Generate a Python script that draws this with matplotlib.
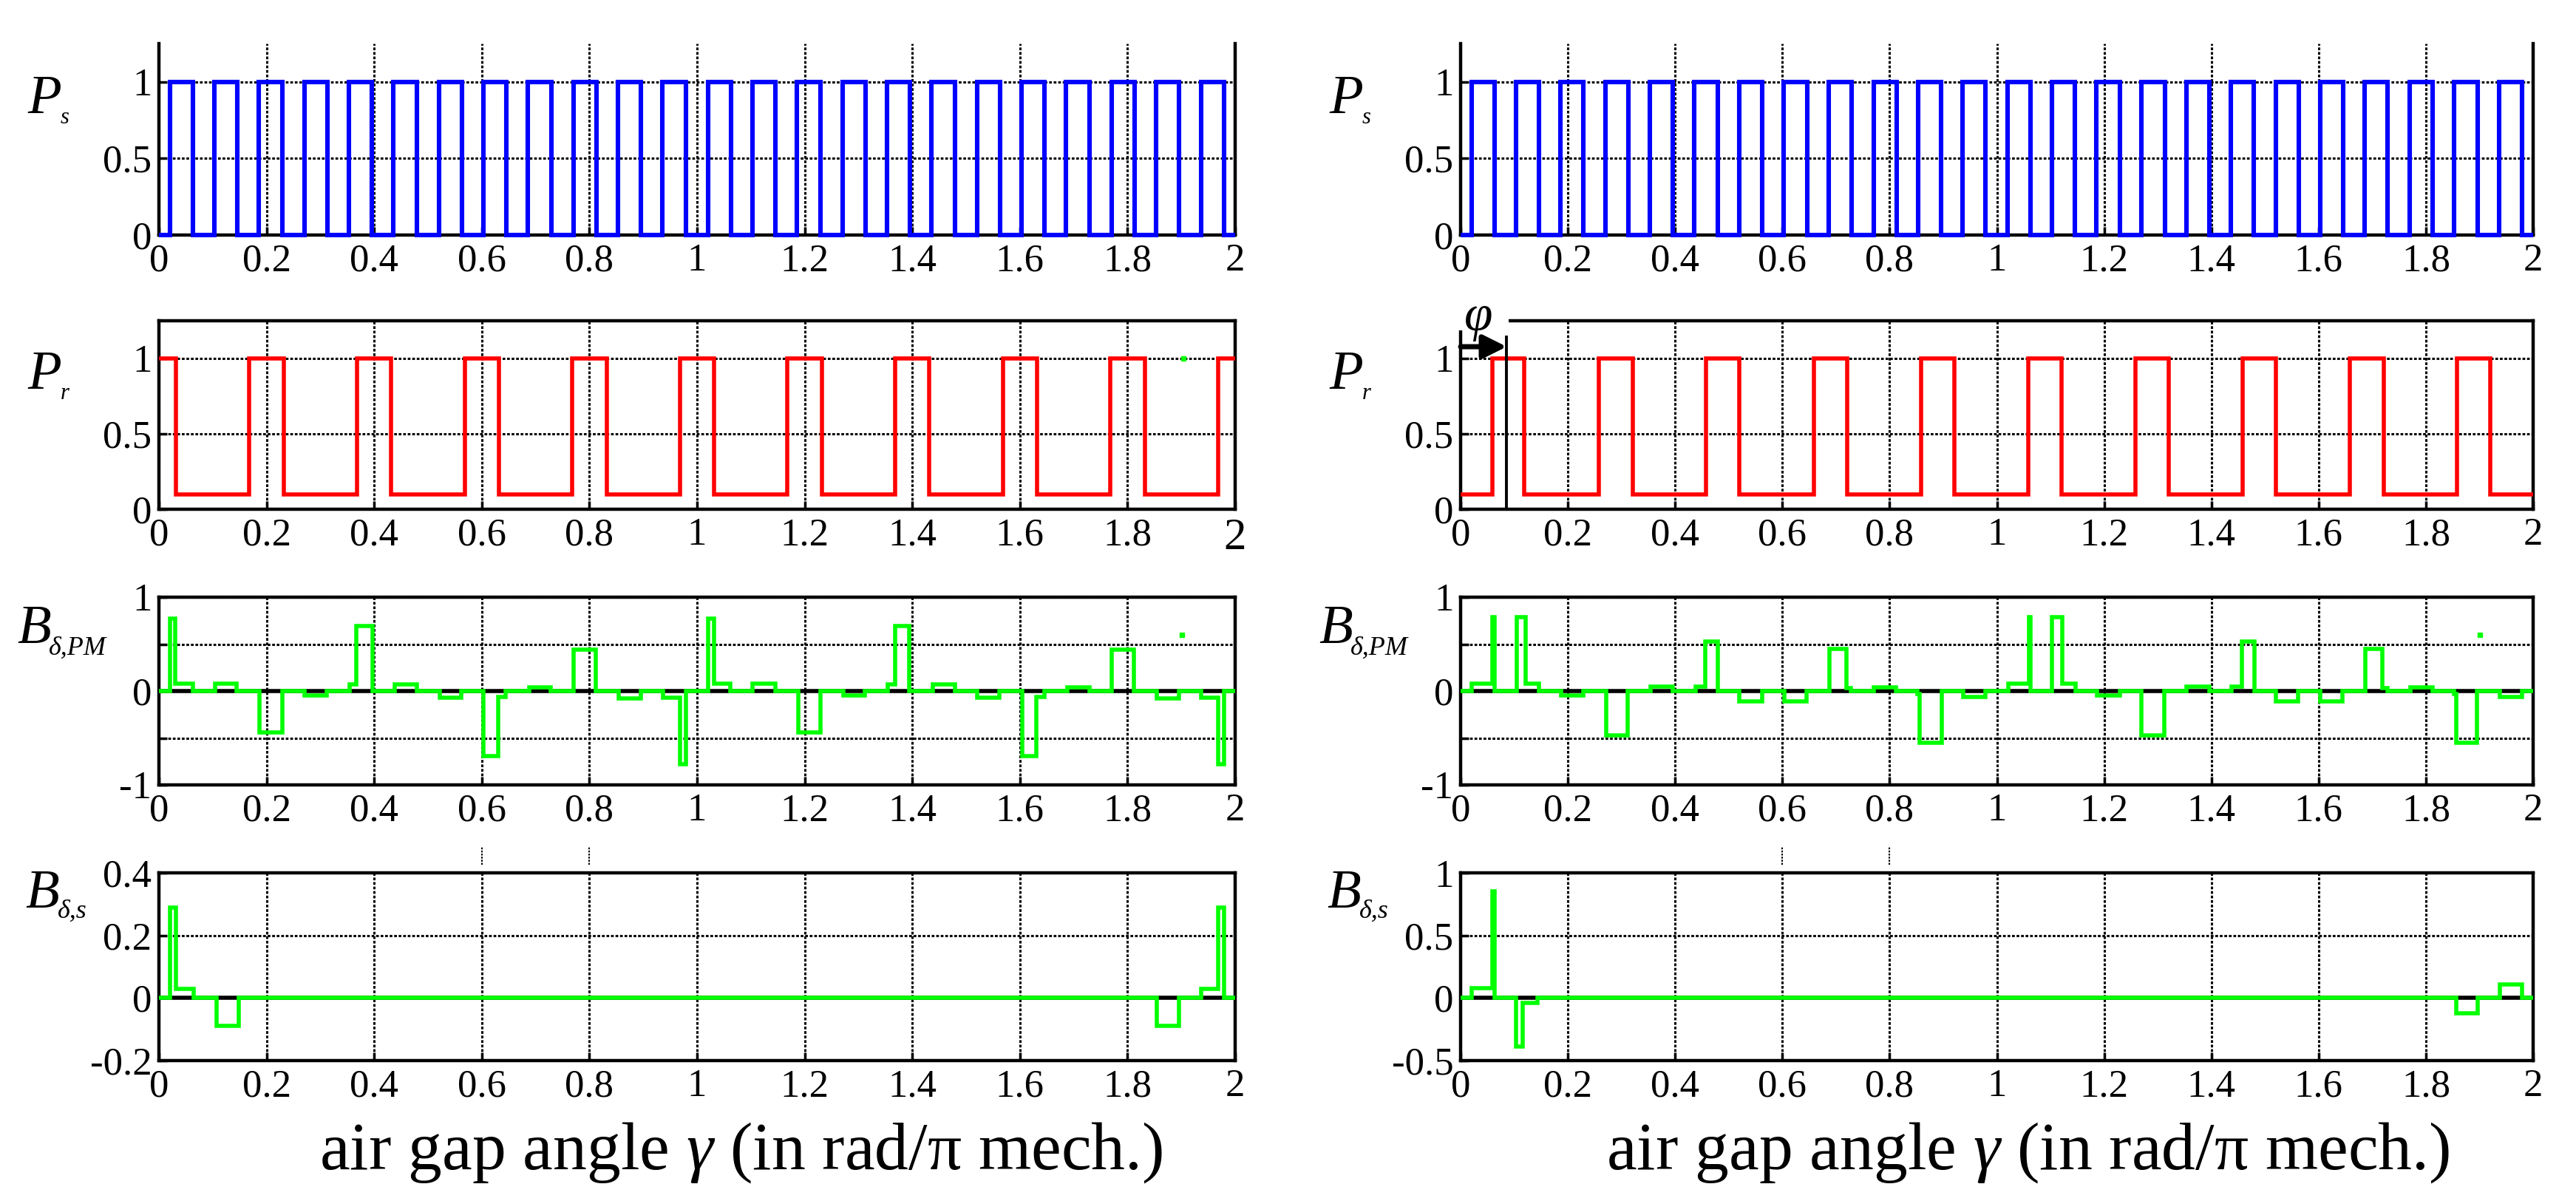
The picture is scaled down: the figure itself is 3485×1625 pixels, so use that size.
import matplotlib
matplotlib.use("Agg")
import matplotlib.pyplot as plt
from matplotlib.patches import Rectangle

plt.rcParams['font.family'] = ['Liberation Serif', 'DejaVu Serif']
plt.rcParams['mathtext.fontset'] = 'custom'
plt.rcParams['mathtext.it'] = 'Liberation Serif:italic'
plt.rcParams['mathtext.rm'] = 'Liberation Serif'

# ---------------- data ----------------
x_ticks = [0, 0.2, 0.4, 0.6, 0.8, 1.0, 1.2, 1.4, 1.6, 1.8, 2.0]
x_ticklabels = ['0', '0.2', '0.4', '0.6', '0.8', '1', '1.2', '1.4', '1.6', '1.8', '2']

# stator permeance (teeth = 1, slots = 0)
ps_rise = [0.020, 0.103, 0.186, 0.270, 0.353, 0.436, 0.520, 0.603, 0.686, 0.770, 0.853, 0.936,
           1.020, 1.103, 1.186, 1.270, 1.353, 1.436, 1.520, 1.603, 1.686, 1.770, 1.853, 1.937]
ps_fall = [0.063, 0.146, 0.229, 0.313, 0.396, 0.479, 0.563, 0.646, 0.729, 0.813, 0.896, 0.979,
           1.063, 1.146, 1.229, 1.313, 1.396, 1.479, 1.563, 1.646, 1.729, 1.813, 1.896, 1.979]
ps_low, ps_high = 0.0, 1.0

# rotor permeance, left (aligned) and right (shifted by phi)
pr_left_rise = [0.000, 0.168, 0.368, 0.568, 0.768, 0.968, 1.168, 1.368, 1.568, 1.768, 1.968]
pr_left_fall = [0.032, 0.232, 0.432, 0.632, 0.832, 1.032, 1.232, 1.432, 1.632, 1.832, 2.000]
pr_right_rise = [0.059, 0.258, 0.458, 0.659, 0.859, 1.059, 1.258, 1.458, 1.658, 1.858]
pr_right_fall = [0.119, 0.321, 0.520, 0.721, 0.921, 1.120, 1.321, 1.521, 1.722, 1.920]
pr_low, pr_high = 0.1, 1.0
phi_shift = 0.086

# PM air-gap flux density (step segments)
bpm_left_edges = [0, 0.02, 0.03, 0.063, 0.104, 0.144, 0.187, 0.229, 0.27, 0.312,
                  0.355, 0.367, 0.397, 0.438, 0.479, 0.522, 0.562, 0.603, 0.631, 0.644,
                  0.688, 0.728, 0.77, 0.812, 0.854, 0.895, 0.937, 0.968, 0.98, 1.02,
                  1.032, 1.062, 1.103, 1.146, 1.188, 1.229, 1.272, 1.312, 1.355, 1.368,
                  1.394, 1.438, 1.479, 1.521, 1.562, 1.604, 1.631, 1.645, 1.688, 1.729,
                  1.771, 1.812, 1.854, 1.896, 1.937, 1.968, 1.98, 2.0]
bpm_left_vals = [0, 0.77, 0.08, 0, 0.08, 0, -0.44, 0, -0.05, 0,
                 0.07, 0.69, 0, 0.07, 0, -0.07, 0, -0.69, -0.06, 0,
                 0.04, 0, 0.44, 0, -0.08, 0, -0.07, -0.78, 0, 0.77,
                 0.08, 0, 0.08, 0, -0.44, 0, -0.05, 0, 0.07, 0.69,
                 0, 0.07, 0, -0.07, 0, -0.69, -0.06, 0, 0.04, 0,
                 0.44, 0, -0.08, 0, -0.07, -0.78, 0]

bpm_right_edges = [0, 0.02, 0.059, 0.063, 0.105, 0.121, 0.146, 0.188, 0.229, 0.271,
                   0.312, 0.354, 0.396, 0.438, 0.456, 0.48, 0.52, 0.562, 0.604, 0.645,
                   0.688, 0.72, 0.728, 0.77, 0.812, 0.852, 0.856, 0.897, 0.937, 0.979,
                   1.021, 1.06, 1.063, 1.102, 1.122, 1.147, 1.187, 1.23, 1.27, 1.312,
                   1.353, 1.396, 1.437, 1.457, 1.48, 1.52, 1.562, 1.603, 1.644, 1.687,
                   1.719, 1.729, 1.771, 1.812, 1.853, 1.856, 1.895, 1.938, 1.98, 2.0]
bpm_right_vals = [0, 0.08, 0.79, 0, 0.79, 0.08, 0, -0.05, 0, -0.47,
                  0, 0.05, 0, 0.05, 0.53, 0, -0.11, 0, -0.11, 0,
                  0.45, 0.03, 0, 0.04, 0, -0.03, -0.55, 0, -0.06, 0,
                  0.08, 0.79, 0, 0.79, 0.08, 0, -0.05, 0, -0.47, 0,
                  0.05, 0, 0.05, 0.53, 0, -0.11, 0, -0.11, 0, 0.45,
                  0.03, 0, 0.04, 0, -0.03, -0.55, 0, -0.06, 0]

# stator-slot air-gap flux density
bs_left_edges = [0, 0.021, 0.032, 0.065, 0.107, 0.148, 1.854, 1.895, 1.937, 1.968, 1.98, 2.0]
bs_left_vals = [0, 0.29, 0.03, 0, -0.09, 0, -0.09, 0, 0.03, 0.29, 0]
bs_right_edges = [0, 0.02, 0.059, 0.063, 0.103, 0.116, 0.144, 1.856, 1.897, 1.938, 1.979, 2.0]
bs_right_vals = [0, 0.08, 0.85, 0, -0.39, -0.04, 0, -0.12, 0, 0.11, 0]

# y axes
ylim_p = (0, 1.25)
yticks_p = [0, 0.5, 1]
yticklabels_p = ['0', '0.5', '1']
ylim_bpm = (-1, 1)
yticks_bpm = [-1, -0.5, 0, 0.5, 1]
yticklabels_bpm = ['-1', '', '0', '', '1']
ylim_bs_left = (-0.2, 0.4)
yticks_bs_left = [-0.2, 0, 0.2, 0.4]
yticklabels_bs_left = ['-0.2', '0', '0.2', '0.4']
ylim_bs_right = (-0.5, 1)
yticks_bs_right = [-0.5, 0, 0.5, 1]
yticklabels_bs_right = ['-0.5', '0', '0.5', '1']

xlabel_text = r'air gap angle $\gamma$ (in rad/π mech.)'

# ---------------- helpers ----------------
W, H = 3485, 1625
fig = plt.figure(figsize=(W / 100, H / 100), dpi=100)

BLUE, RED, GREEN = '#0000ff', '#ff0000', '#00ff00'
TICKFS = 38


def pulses(rise, fall, lo, hi):
    edges = [0.0]
    vals = []
    for r, f in zip(rise, fall):
        if r > edges[-1]:
            vals.append(lo)
            edges.append(r)
        vals.append(hi)
        edges.append(f)
    if edges[-1] < 2.0:
        vals.append(lo)
        edges.append(2.0)
    return edges, vals


def make_ax(x0, x1, ytop, ybot, ylim, yticks, ylabels, zero_line=False, top_spine=True):
    ax = fig.add_axes([x0 / W, 1 - ybot / H, (x1 - x0) / W, (ybot - ytop) / H])
    ax.set_xlim(0, 2)
    ax.set_ylim(*ylim)
    ax.set_xticks(x_ticks)
    ax.set_xticklabels(x_ticklabels)
    ax.set_yticks(yticks)
    ax.set_yticklabels(ylabels)
    ax.tick_params(direction='in', length=8, width=2.5, labelsize=TICKFS, pad=7, colors='k')
    ax.tick_params(axis='x', pad=8)
    ax.grid(True, color='k', linestyle=(0, (1.2, 0.8)), lw=2.2)
    ax.set_axisbelow(True)
    for s in ax.spines.values():
        s.set_linewidth(3.2)
        s.set_color('k')
    if not top_spine:
        ax.spines['top'].set_visible(False)
    if zero_line:
        ax.axhline(0, color='k', lw=4, zorder=1.5)
    return ax


def ylab(x, y, main, sub, subdx, subdy, subfs):
    fig.text(x / W, 1 - y / H, main, fontsize=54, style='italic', ha='left', va='baseline')
    fig.text((x + subdx) / W, 1 - (y + subdy) / H, sub, fontsize=subfs, style='italic',
             ha='left', va='baseline')


cols = [(215, 1671), (1976, 3427)]
rows = [(59, 318), (434, 689), (808, 1062), (1181, 1435)]

for ci, (x0, x1) in enumerate(cols):
    dx = 0 if ci == 0 else 1761
    # Row 1: Ps
    ax = make_ax(x0, x1, *rows[0], ylim_p, yticks_p, yticklabels_p, top_spine=False)
    e, v = pulses(ps_rise, ps_fall, ps_low, ps_high)
    ax.stairs(v, e, baseline=None, color=BLUE, lw=4.4, zorder=3, clip_on=False)
    ylab(37 + dx, 153, 'P', 's', 45, 14, 22)

    # Row 2: Pr
    ax = make_ax(x0, x1, *rows[1], ylim_p, yticks_p, yticklabels_p)
    if ci == 0:
        e, v = pulses(pr_left_rise, pr_left_fall, pr_low, pr_high)
        ax.get_xticklabels()[-1].set_fontsize(44)
        ax.plot([1.904], [1.0], 's', color=GREEN, ms=4, zorder=4)
    else:
        e, v = pulses(pr_right_rise, pr_right_fall, pr_low, pr_high)
        ax.add_patch(Rectangle((-0.015, 1.186), 0.104, 0.35, transform=ax.transData,
                               facecolor='white', edgecolor='none', clip_on=False, zorder=5))
        ax.plot([phi_shift, phi_shift], [0, 1.142], color='k', lw=2.8, zorder=6, clip_on=False)
        ax.annotate('', xy=(phi_shift, 1.078), xytext=(0.0, 1.078),
                    arrowprops=dict(arrowstyle='-|>', lw=5, color='k', mutation_scale=48,
                                    shrinkA=0, shrinkB=0),
                    annotation_clip=False, zorder=7)
        ax.text(0.034, 1.27, 'φ', fontsize=50, style='italic', ha='center', va='center',
                zorder=8, clip_on=False)
    ax.stairs(v, e, baseline=None, color=RED, lw=4.0, zorder=3)
    ylab(37 + dx, 526, 'P', 'r', 45, 14, 22)

    # Row 3: B_delta,PM
    ax = make_ax(x0, x1, *rows[2], ylim_bpm, yticks_bpm, yticklabels_bpm, zero_line=True)
    if ci == 0:
        ax.stairs(bpm_left_vals, bpm_left_edges, baseline=None, color=GREEN, lw=4.0, zorder=3)
    else:
        ax.stairs(bpm_right_vals, bpm_right_edges, baseline=None, color=GREEN, lw=4.0, zorder=3)
    ax.plot([1.901], [0.6], 's', color=GREEN, ms=5, zorder=4)
    ylab(23 + dx, 870, 'B', 'δ,PM', 43, 16, 26)

    # Row 4: B_delta,s
    if ci == 0:
        ax = make_ax(x0, x1, *rows[3], ylim_bs_left, yticks_bs_left, yticklabels_bs_left,
                     zero_line=True)
        ax.stairs(bs_left_vals, bs_left_edges, baseline=None, color=GREEN, lw=4.0, zorder=3)
        stub = [0.426, 0.485]
    else:
        ax = make_ax(x0, x1, *rows[3], ylim_bs_right, yticks_bs_right, yticklabels_bs_right,
                     zero_line=True)
        ax.stairs(bs_right_vals, bs_right_edges, baseline=None, color=GREEN, lw=4.0, zorder=3)
        stub = [1.065, 1.21]
    for xs in (0.6, 0.8):
        ax.plot([xs, xs], stub, color='k', lw=1.5, linestyle=(0, (1.2, 0.8)), clip_on=False)
    ylab(34 + dx, 1228, 'B', 'δ,s', 44, 14, 26)

# x-axis labels
fig.text(1003 / W, 1 - 1582 / H, xlabel_text, fontsize=66, ha='center', va='baseline')
fig.text(2744 / W, 1 - 1582 / H, xlabel_text, fontsize=66, ha='center', va='baseline')

fig.savefig('out.png', dpi=100, facecolor='white')
